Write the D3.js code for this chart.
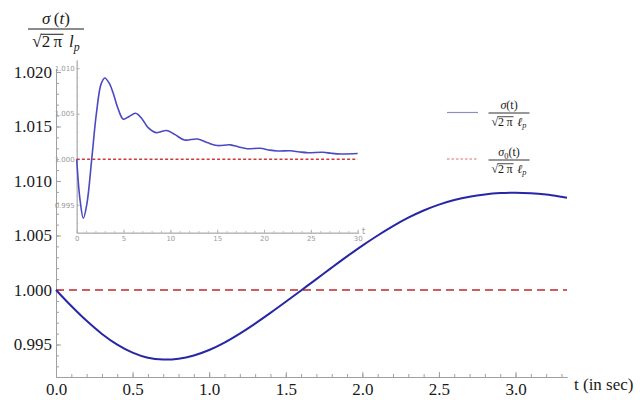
<!DOCTYPE html>
<html>
<head>
<meta charset="utf-8">
<script src="https://cdn.jsdelivr.net/npm/d3@7/dist/d3.min.js"></script>
<style>
  body { margin: 0; background: #fff; }
  svg { display: block; }
  svg text { font-family: 'Liberation Serif', 'Times New Roman', 'DejaVu Serif', serif; }
  svg text.sans { font-family: 'DejaVu Sans', 'Liberation Sans', sans-serif; }
</style>
</head>
<body>
<div id="main"></div>
<script>
/// data ///

// main plot, t in sec, sigma(t)/(sqrt(2 pi) l_p)
const tMain = [0, 0.1, 0.2, 0.3, 0.4, 0.5, 0.6, 0.7, 0.8, 0.9, 1.0, 1.1, 1.2, 1.3, 1.4, 1.5, 1.6,
               1.7, 1.8, 1.9, 2.0, 2.1, 2.2, 2.3, 2.4, 2.5, 2.6, 2.7, 2.8, 2.9, 3.0, 3.1, 3.2, 3.3, 3.336];
const sigmaMain = [1.0000, 0.99853, 0.99717, 0.99597, 0.99499, 0.99425, 0.99378, 0.99362, 0.99370,
                   0.99400, 0.99450, 0.99518, 0.99600, 0.99692, 0.99790, 0.99892, 0.99996, 1.00100,
                   1.00205, 1.00308, 1.00407, 1.00500, 1.00586, 1.00663, 1.00729, 1.00783, 1.00825,
                   1.00856, 1.00877, 1.00889, 1.00893, 1.00888, 1.00875, 1.00855, 1.00847];
const sigma0 = 1.0;   // reference level (dashed)

const xTicksMain = [0, 0.5, 1.0, 1.5, 2.0, 2.5, 3.0];
const yTicksMain = [0.995, 1.000, 1.005, 1.010, 1.015, 1.020];

// inset, long run up to t = 30
const tInset = [0, 0.35, 0.71, 1.1, 1.6, 2.1, 2.6, 3.0, 3.5, 3.9, 4.4, 4.98, 5.6, 6.3, 7.0, 7.6, 8.5,
                9.6, 10.5, 11.5, 12.9, 14.0, 15.0, 16.4, 17.3, 18.2, 19.6, 20.5, 21.4, 22.8, 23.8,
                24.7, 26.3, 27.2, 28.2, 30.0];
const sigmaInset = [1.0000, 0.99560, 0.99352, 0.99518, 0.99996, 1.00500, 1.00825, 1.00893, 1.00830,
                    1.00725, 1.00560, 1.00440, 1.00470, 1.00505, 1.00440, 1.00350, 1.00292, 1.00315,
                    1.00270, 1.00212, 1.00222, 1.00180, 1.00150, 1.00158, 1.00135, 1.00115, 1.00120,
                    1.00102, 1.00090, 1.00093, 1.00080, 1.00072, 1.00076, 1.00065, 1.00058, 1.00063];

const xTicksInset = [0, 5, 10, 15, 20, 25, 30];
const yTicksInset = [0.995, 1.000, 1.005, 1.010];

/// drawing ///

const w = 644;
const h = 400;

const svg = d3.select('#main')
              .append('svg')
              .attr('width', w)
              .attr('height', h);

const x = d3.scaleLinear().domain([0, 3.336]).range([56, 567]);
const y = d3.scaleLinear().domain([0.99202, 1.0203]).range([377, 68.7]);

// style an axis group mathematica-like
function styleAxis(g, col, txtCol, fs, cls) {
    g.attr('font-family', null);
    g.select('.domain').attr('stroke', col);
    g.selectAll('.tick line').attr('stroke', col);
    g.selectAll('.tick text').attr('fill', txtCol).attr('font-size', fs).attr('class', cls || null);
}

// minor ticks
svg.append('g')
    .attr('transform', 'translate(0,' + y.range()[0] + ')')
    .call(d3.axisBottom(x).tickValues(d3.range(0, 3.35, 0.1)).tickSize(-3).tickSizeOuter(0).tickFormat(''))
    .call(g => styleAxis(g, '#a0a0a0'));
svg.append('g')
    .attr('transform', 'translate(' + x.range()[0] + ',0)')
    .call(d3.axisLeft(y).tickValues(d3.range(0.993, 1.0205, 0.001)).tickSize(-3).tickSizeOuter(0).tickFormat(''))
    .call(g => styleAxis(g, '#a0a0a0'));

// major ticks + labels
svg.append('g')
    .attr('transform', 'translate(0,' + y.range()[0] + ')')
    .call(d3.axisBottom(x).tickValues(xTicksMain).tickSize(-5).tickSizeOuter(0).tickPadding(6).tickFormat(d3.format('.1f')))
    .call(g => styleAxis(g, '#a0a0a0', '#1a1a1a', 17));
svg.append('g')
    .attr('transform', 'translate(' + x.range()[0] + ',0)')
    .call(d3.axisLeft(y).tickValues(yTicksMain).tickSize(-5).tickSizeOuter(0).tickPadding(4).tickFormat(d3.format('.3f')))
    .call(g => styleAxis(g, '#a0a0a0', '#1a1a1a', 17));

svg.append('text')
    .attr('x', 574).attr('y', 390)
    .attr('font-size', 17).attr('fill', '#1a1a1a')
    .text('t (in sec)');

// fraction  num / (sqrt(2 pi) l_p)
function fraction(g, cx, barY, barW, fs, numParts, lChar, col) {
    const num = g.append('text')
                 .attr('x', cx).attr('y', barY - fs * 0.32)
                 .attr('text-anchor', 'middle')
                 .attr('font-size', fs).attr('fill', col);
    numParts.forEach(p => {
        const ts = num.append('tspan').text(p.t);
        if (p.i) ts.attr('font-style', 'italic');
        if (p.sub) ts.attr('font-size', fs * 0.7).attr('dy', fs * 0.22);
        if (p.up) ts.attr('dy', -fs * 0.22);
    });

    g.append('line')
        .attr('x1', cx - barW / 2).attr('x2', cx + barW / 2)
        .attr('y1', barY).attr('y2', barY)
        .attr('stroke', col).attr('stroke-width', fs > 14 ? 1.2 : 0.9);

    const den = g.append('text')
                 .attr('x', cx).attr('y', barY + fs * 1.05)
                 .attr('text-anchor', 'middle')
                 .attr('font-size', fs).attr('fill', col);
    den.append('tspan').text('\u221A');
    const rad = den.append('tspan').text('2\u2009\u03C0');
    den.append('tspan').text('\u2009\u2009');
    den.append('tspan').text(lChar).attr('font-style', 'italic');
    den.append('tspan').text('p').attr('font-style', 'italic')
        .attr('font-size', fs * 0.7).attr('dy', fs * 0.22);

    const bb = rad.node().getBBox();
    const top = barY + fs * 1.05 - fs * 0.74;
    g.append('line')
        .attr('x1', bb.x - 0.5).attr('x2', bb.x + bb.width + 1)
        .attr('y1', top).attr('y2', top)
        .attr('stroke', col).attr('stroke-width', fs > 14 ? 1 : 0.8);
}

// y axis label
fraction(svg.append('g'), 56, 29, 56, 17,
         [{t: '\u03C3', i: true}, {t: '\u2009(', i: false}, {t: 't', i: true}, {t: ')', i: false}],
         'l', '#1a1a1a');

// reference and curve
svg.append('line')
    .attr('x1', x(0)).attr('x2', x(3.336))
    .attr('y1', y(sigma0)).attr('y2', y(sigma0))
    .attr('stroke', '#c0282d').attr('stroke-width', 1.6)
    .attr('stroke-dasharray', '8,5');

const line = d3.line()
               .x((d, i) => x(tMain[i]))
               .y(d => y(d))
               .curve(d3.curveCatmullRom.alpha(0.5));

svg.append('path')
    .datum(sigmaMain)
    .attr('fill', 'none')
    .attr('stroke', '#2727a6')
    .attr('stroke-width', 2)
    .attr('d', line);

/// inset ///

const xi = d3.scaleLinear().domain([0, 30.1]).range([76.7, 358.6]);
const yi = d3.scaleLinear().domain([0.99193, 1.0109]).range([232.7, 60]);
const inset = svg.append('g');
const gray = '#b4b4b4';

inset.append('g')
    .attr('transform', 'translate(0,' + yi.range()[0] + ')')
    .call(d3.axisBottom(xi).tickValues(d3.range(0, 31, 1)).tickSize(-1.5).tickSizeOuter(0).tickFormat(''))
    .call(g => styleAxis(g, gray));
inset.append('g')
    .attr('transform', 'translate(' + xi.range()[0] + ',0)')
    .call(d3.axisLeft(yi).tickValues(d3.range(0.992, 1.0105, 0.001)).tickSize(-1.5).tickSizeOuter(0).tickFormat(''))
    .call(g => styleAxis(g, gray));
inset.append('g')
    .attr('transform', 'translate(0,' + yi.range()[0] + ')')
    .call(d3.axisBottom(xi).tickValues(xTicksInset).tickSize(-3).tickSizeOuter(0).tickPadding(3))
    .call(g => styleAxis(g, gray, '#9a9a9a', 7, 'sans'));
inset.append('g')
    .attr('transform', 'translate(' + xi.range()[0] + ',0)')
    .call(d3.axisLeft(yi).tickValues(yTicksInset).tickSize(-3).tickSizeOuter(0).tickPadding(2).tickFormat(d3.format('.3f')))
    .call(g => styleAxis(g, gray, '#9a9a9a', 7, 'sans'));

inset.append('text')
    .attr('class', 'sans')
    .attr('x', 362).attr('y', 234)
    .attr('font-size', 8).attr('fill', '#9a9a9a')
    .text('t');

inset.append('line')
    .attr('x1', xi(0)).attr('x2', xi(30))
    .attr('y1', yi(sigma0)).attr('y2', yi(sigma0))
    .attr('stroke', '#d0393c').attr('stroke-width', 1.3)
    .attr('stroke-dasharray', '3,2.2');

const lineInset = d3.line()
                    .x((d, i) => xi(tInset[i]))
                    .y(d => yi(d))
                    .curve(d3.curveCatmullRom.alpha(0.5));

inset.append('path')
    .datum(sigmaInset)
    .attr('fill', 'none')
    .attr('stroke', '#4a4ac4')
    .attr('stroke-width', 1.6)
    .attr('d', lineInset);

/// legend ///

const legend = svg.append('g');

legend.append('line')
    .attr('x1', 447).attr('x2', 478).attr('y1', 112.5).attr('y2', 112.5)
    .attr('stroke', '#8c8cc8').attr('stroke-width', 1.2);
fraction(legend, 509, 113, 41, 12,
         [{t: '\u03C3', i: true}, {t: '(t)', i: false}], '\u2113', '#1a1a1a');

legend.append('line')
    .attr('x1', 447).attr('x2', 478).attr('y1', 159).attr('y2', 159)
    .attr('stroke', '#e06a6a').attr('stroke-width', 1)
    .attr('stroke-dasharray', '2.5,2');
fraction(legend, 509, 160, 41, 12,
         [{t: '\u03C3', i: true}, {t: '0', sub: true}, {t: '(t)', i: false, up: true}], '\u2113', '#1a1a1a');
</script>
</body>
</html>
